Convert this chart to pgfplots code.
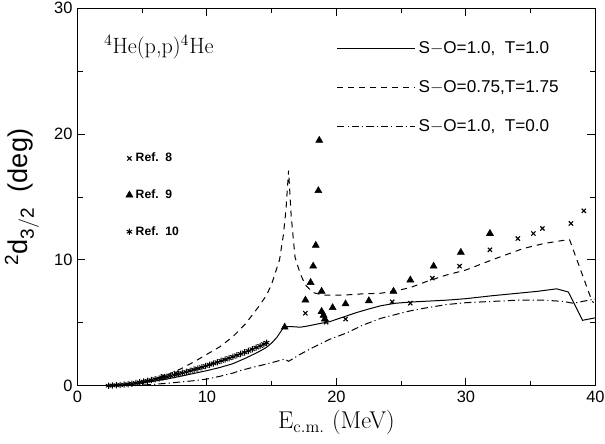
\documentclass[border=0pt]{standalone}
\usepackage{pgfplots}
\pgfplotsset{compat=1.18}
\usepackage{fontspec}
\setsansfont{Liberation Sans}
\begin{document}
\begin{tikzpicture}
\pgfplotsset{
  common/.style={
    width=362.6pt, height=264.2pt, scale only axis,
    xmin=0, xmax=40, ymin=0, ymax=30,
  }
}
\begin{axis}[common, name=ax,
  axis line style={line width=0.9pt},
  xtick={0,10,20,30,40}, ytick={0,10,20,30},
  minor xtick={5,15,25,35}, minor ytick={5,15,25},
  tick align=inside, major tick length=5.6pt, minor tick length=3.6pt,
  tick style={line width=0.7pt, black},
  xtick pos=both, ytick pos=both, xticklabel pos=lower, yticklabel pos=left,
  /pgf/number format/assume math mode=true,
  ticklabel style={font=\sffamily\fontsize{11.5}{13}\selectfont},
  xlabel={E$_{\mathrm{c.m.}}$\ (MeV)},
  xlabel style={font=\rmfamily\fontsize{17}{19}\selectfont, at={(axis description cs:0.5,0)}, anchor=center, yshift=-26pt},
  legend style={at={(0.5,0.921)}, anchor=north west, draw=none, fill=none, inner sep=0pt,
    font=\sffamily\fontsize{12}{13}\selectfont, row sep=13.6pt,
    nodes={inner sep=2pt}},
  legend cell align=left,
  legend image code/.code={\draw[#1] (0pt,0pt) -- (54.6pt,0pt);},
]
% S-O=1.0, T=1.0
\addplot[black, line width=0.7pt] coordinates {
(2.5,0) (3,0.02) (4,0.1) (5,0.22) (6,0.38) (7,0.55) (8,0.76) (9,0.98) (10,1.2)
(11,1.45) (12,1.75) (13,2.2) (14,2.7) (14.6,3.05) (15.0,3.4) (15.4,3.85) (15.95,4.7)
(16.5,4.7) (17.2,4.65) (17.8,4.75) (18.5,4.9) (19.5,5.1) (20.5,5.45) (21.5,5.8)
(22.5,6.1) (23.4,6.35) (24.5,6.55) (25.7,6.65) (27,6.72) (28.5,6.8) (30,6.92)
(32,7.15) (34,7.35) (35.5,7.5) (37,7.7) (37.9,7.45) (39.0,5.2) (40,5.4)
};
\addlegendentry{S$-$O=1.0,\ \ T=1.0}
% S-O=0.75, T=1.75
\addplot[black, line width=0.7pt, dash pattern=on 4.2pt off 3.5pt] coordinates {
(2.8,0) (4,0.1) (5,0.3) (6,0.55) (7,0.9) (8,1.35) (9,1.9) (10,2.5) (11,3.1)
(12,3.9) (13,4.95) (14,6.3) (14.6,7.2) (15,8.1) (15.6,10.0) (15.9,12) (16.1,14)
(16.3,17.1) (16.5,13.5) (16.8,10.2) (17.2,8.9) (17.6,8.0) (18.2,7.4) (19,7.2)
(20.5,7.2) (22,7.3) (23.4,7.35) (24.4,7.5) (25.7,7.8) (27,8.3) (28.5,8.8) (30,9.2)
(32,10.0) (34.4,10.9) (36,11.3) (37.5,11.55) (38,11.6) (39.7,6.8) (39.85,6.6)
};
\addlegendentry{S$-$O=0.75,T=1.75}
% S-O=1.0, T=0.0
\addplot[black, line width=0.7pt, dash pattern=on 5pt off 2.2pt on 0.8pt off 2.2pt] coordinates {
(4,0) (5,0.05) (6,0.12) (7,0.2) (8,0.3) (9,0.4) (10,0.53) (11,0.75) (12,1.0)
(12.55,1.2) (13.5,1.45) (14.5,1.7) (15.1,1.86) (16.0,2.12) (16.3,1.94) (17.2,2.5)
(18.2,3.05) (19.5,3.7) (20.8,4.2) (22,4.8) (23.4,5.35) (24.9,5.75) (25.7,5.95)
(27,6.2) (28.5,6.45) (30,6.6) (32,6.7) (34,6.8) (36,6.8) (37.5,6.7) (38.3,6.55)
(39,6.7) (40,6.9)
};
\addlegendentry{S$-$O=1.0,\ \ T=0.0}
% Ref. 8
\addplot[only marks, mark=x, mark size=2.1pt, black, line width=0.8pt, forget plot] coordinates {
(6.6,0.75) (7.6,1.0) (17.6,5.76) (19.2,5.05) (20.7,5.3) (24.3,6.67) (25.7,6.56)
(27.4,8.55) (29.5,9.5) (31.85,10.8) (34,11.7) (35.2,12.1) (35.9,12.5) (38.1,12.9) (39.1,13.9)
};
% Ref. 9
\addplot[only marks, mark=triangle*, mark size=2.8pt, black, forget plot] coordinates {
(16.0,4.65) (17.6,6.8) (18.0,8.2) (18.2,9.5) (18.4,11.15) (18.6,15.5) (18.67,19.5)
(18.85,7.5) (18.85,5.9) (19.0,5.6) (19.1,5.3) (19.7,6.2) (20.7,6.5) (22.5,6.75)
(24.4,7.5) (25.7,8.4) (27.5,9.5) (29.6,10.6) (31.85,12.1)
};
% Ref. 10
\addplot[only marks, mark=asterisk, mark size=2.2pt, black, line width=0.7pt, forget plot] coordinates {
(2.4,0.0) (2.7,0.02) (3.0,0.04) (3.3,0.06) (3.6,0.09) (3.9,0.12) (4.2,0.16) (4.5,0.21)
(4.8,0.27) (5.1,0.33) (5.4,0.39) (5.7,0.45) (6.0,0.52) (6.3,0.58) (6.6,0.65) (6.9,0.72)
(7.2,0.79) (7.5,0.86) (7.8,0.94) (8.1,1.02) (8.4,1.10) (8.7,1.19) (9.0,1.28) (9.3,1.37)
(9.6,1.47) (9.9,1.57) (10.2,1.67) (10.5,1.77) (10.8,1.87) (11.1,1.98) (11.4,2.08)
(11.7,2.19) (12.0,2.30) (12.3,2.42) (12.6,2.53) (12.9,2.65) (13.2,2.77) (13.5,2.90)
(13.8,3.03) (14.1,3.16) (14.4,3.30) (14.6,3.42)
};
\node[font=\rmfamily\fontsize{15.5}{17}\selectfont] at (rel axis cs:0.157,0.897) {$^4$He(p,p)$^4$He};
\end{axis}
\begin{axis}[common, hide axis,
  legend style={at={(0.093,0.625)}, anchor=north west, draw=none, fill=none, inner sep=0pt,
    font=\sffamily\bfseries\fontsize{8.5}{10}\selectfont, row sep=14pt,
    nodes={inner sep=2pt}},
  legend cell align=left,
  legend image code/.code={\draw[#1] plot coordinates {(0pt,0pt)};},
]
\addlegendimage{only marks, mark=x, mark size=2.1pt, black, line width=0.8pt}
\addlegendentry{Ref.\ \ 8}
\addlegendimage{only marks, mark=triangle*, mark size=2.8pt, black}
\addlegendentry{Ref.\ \ 9}
\addlegendimage{only marks, mark=asterisk, mark size=2.2pt, black, line width=0.7pt}
\addlegendentry{Ref.\ \ 10}
\end{axis}
\node[rotate=90, anchor=center, font=\sffamily\fontsize{19}{21}\selectfont]
  at ([xshift=-38.9pt, yshift=132pt]ax.south west) {$^{\mathsf{2}}$d$_{\mathsf{3/2}}$\ \ (deg)};
\pgfresetboundingbox
\path ([xshift=-54.25pt,yshift=-40.8pt]ax.south west) rectangle ([xshift=6.65pt,yshift=5.8pt]ax.north east);
\end{tikzpicture}
\end{document}
